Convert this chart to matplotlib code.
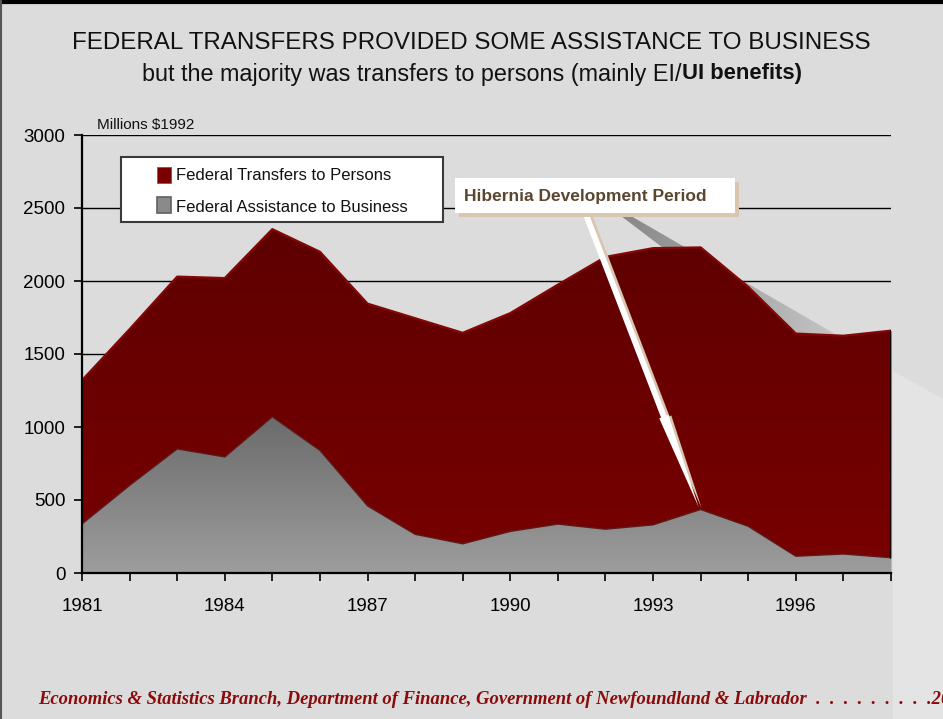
import numpy as np
import matplotlib.pyplot as plt
from matplotlib.patches import Rectangle, Polygon
from matplotlib.colors import LinearSegmentedColormap

years = list(range(1981, 1999))
business = [336, 600, 850, 795, 1070, 840, 460, 265, 200, 285,
            335, 300, 330, 435, 320, 115, 130, 105]
persons = [984, 1070, 1180, 1225, 1285, 1360, 1385, 1480, 1445, 1495,
           1640, 1865, 1895, 1795, 1640, 1525, 1495, 1555]
labels = ['Federal Transfers to Persons', 'Federal Assistance to Business']
xticks = [1981, 1984, 1987, 1990, 1993, 1996]
yticks = [0, 500, 1000, 1500, 2000, 2500, 3000]

W, H = 943, 719
plt.rcParams['font.family'] = ['Liberation Sans', 'DejaVu Sans']


def px(x, y):
    """Pixel position (from top-left) to figure fraction."""
    return x / W, 1 - y / H


def gradient_fill(ax, x, lo, hi, c_top, c_bot, z):
    """Fill between lo and hi with a vertical colour gradient."""
    poly = ax.fill_between(x, lo, hi, color=c_bot, lw=0, zorder=z)
    img = np.linspace(0, 1, 256).reshape(-1, 1)
    cmap = LinearSegmentedColormap.from_list('g', [c_bot, c_top])
    im = ax.imshow(img, cmap=cmap, aspect='auto', origin='lower',
                   extent=[x[0], x[-1], 0, max(hi)], zorder=z)
    im.set_clip_path(poly.get_paths()[0], transform=ax.transData)
    return poly


fig = plt.figure(figsize=(W / 100, H / 100), dpi=100, facecolor='#dcdcdc')

# background decoration in pixel coordinates
bg = fig.add_axes([0, 0, 1, 1], zorder=-1)
bg.axis('off')
bg.add_patch(Polygon([(893, 371), (943, 399), (943, 719), (893, 719)],
                     fc='#e4e4e4', ec='none'))
band = Polygon([(621, 216), (631, 216), (835, 334), (835, 378)],
               fc='none', ec='none')
bg.add_patch(band)
img = np.linspace(0, 1, 256).reshape(1, -1)
im = bg.imshow(img, cmap=LinearSegmentedColormap.from_list(
    'b', ['#888888', '#c4c4c4']), aspect='auto',
    extent=[621, 835, 378, 216])
im.set_clip_path(band)
bg.set_xlim(0, W)
bg.set_ylim(H, 0)

ax = fig.add_axes([82 / W, 1 - 573 / H, (891 - 82) / W, (573 - 135) / H])
ax.set_facecolor('none')

x = np.array(years)
b = np.array(business)
tot = b + np.array(persons)

gradient_fill(ax, x, b, tot, '#5e0000', '#790000', 3)
gradient_fill(ax, x, np.zeros_like(b), b, '#6b6b6b', '#9d9d9d', 4)
ax.plot(x, tot, color='#840606', lw=1.6, zorder=5)
ax.plot(x, b, color='#5e1a1a', lw=1.0, zorder=5)
ax.plot([x[-1], x[-1]], [b[-1], tot[-1]], color='black', lw=1.2, zorder=5)

ax.set_xlim(1981, 1998)
ax.set_ylim(0, 3000)
ax.set_yticks(yticks)
ax.set_xticks(xticks)
ax.set_xticks(years, minor=True)
ax.grid(axis='y', color='black', lw=1.0, zorder=1)
ax.set_axisbelow(True)
for s in ['top', 'right']:
    ax.spines[s].set_visible(False)
for s in ['left', 'bottom']:
    ax.spines[s].set_color('black')
    ax.spines[s].set_linewidth(1.6)
    ax.spines[s].set_zorder(6)
ax.tick_params(axis='both', which='both', direction='out', length=6,
               width=1.2, color='black', labelsize=13.5, pad=6)
ax.tick_params(axis='x', pad=12)

# titles
fig.text(*px(471, 43), 'FEDERAL TRANSFERS PROVIDED SOME ASSISTANCE TO BUSINESS',
         ha='center', va='center', fontsize=17.4, color='#111111')
sub1 = fig.text(*px(142, 74), 'but the majority was transfers to persons (mainly EI/',
                ha='left', va='center', fontsize=16.8, color='#111111')
fig.canvas.draw()
r = fig.canvas.get_renderer()
end = sub1.get_window_extent(r).x1
fig.text(end / W, 1 - 74 / H, 'UI benefits)', ha='left', va='center',
         fontsize=15.8, fontweight='bold', color='#111111')
fig.text(*px(97, 125), 'Millions $1992', ha='left', va='center',
         fontsize=11, color='#111111')

# legend box
fig.patches.append(Rectangle(px(121, 222), 322 / W, 65 / H,
                             transform=fig.transFigure, fc='white',
                             ec='#3a3a3a', lw=1.5, zorder=8))
fig.patches.append(Rectangle(px(157, 183), 14 / W, 16 / H,
                             transform=fig.transFigure, fc='#7a0000',
                             ec='#b04040', lw=0.6, zorder=9))
fig.patches.append(Rectangle(px(157, 213), 14 / W, 16 / H,
                             transform=fig.transFigure, fc='#8a8a8a',
                             ec='#606060', lw=1.2, zorder=9))
fig.text(*px(176, 175), labels[0], ha='left', va='center', fontsize=12,
         color='#111111', zorder=10)
fig.text(*px(176, 207), labels[1], ha='left', va='center', fontsize=12,
         color='#111111', zorder=10)

# annotation box with shadow and arrow
fig.patches.append(Rectangle(px(459, 217), 280 / W, 35 / H,
                             transform=fig.transFigure, fc='#d9c6b0',
                             ec='none', zorder=8))
fig.patches.append(Rectangle(px(455, 213), 280 / W, 35 / H,
                             transform=fig.transFigure, fc='white',
                             ec='none', zorder=9))
fig.text(*px(464, 196), 'Hibernia Development Period', ha='left',
         va='center', fontsize=12.5, fontweight='bold', color='#5b4630',
         zorder=10)
arrow_style = 'simple,head_width=0.5,head_length=5,tail_width=0.3'
ax.annotate('', xy=(1994.02, 445), xycoords='data',
            xytext=px(588, 212), textcoords='figure fraction',
            arrowprops=dict(arrowstyle=arrow_style, fc='#d9c6b0',
                            ec='none', shrinkA=0, shrinkB=0,
                            mutation_scale=14),
            zorder=8, annotation_clip=False)
ax.annotate('', xy=(1993.96, 450), xycoords='data',
            xytext=px(585, 212), textcoords='figure fraction',
            arrowprops=dict(arrowstyle=arrow_style, fc='white',
                            ec='none', shrinkA=0, shrinkB=0,
                            mutation_scale=14),
            zorder=9, annotation_clip=False)

# footer
fig.text(*px(38, 700),
         'Economics & Statistics Branch, Department of Finance, Government '
         'of Newfoundland & Labrador  .  .  .  .  .  .  .  .  .20',
         ha='left', va='center', fontsize=13.4, fontweight='bold',
         style='italic', family=['Liberation Serif', 'DejaVu Serif'],
         color='#8b0a0a')

# frame lines
fig.add_artist(plt.Line2D([0, 1], [1 - 2 / H, 1 - 2 / H],
                          transform=fig.transFigure, color='black', lw=3))
fig.add_artist(plt.Line2D([1 / W, 1 / W], [0, 1],
                          transform=fig.transFigure, color='#555555', lw=1.5))

fig.savefig('out.png', dpi=100, facecolor=fig.get_facecolor())
